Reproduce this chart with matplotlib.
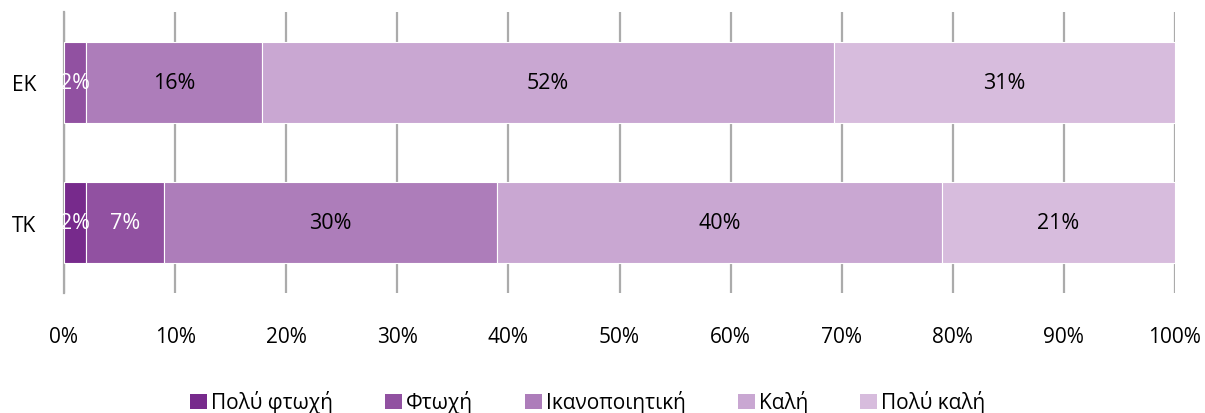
import matplotlib
matplotlib.use("Agg")
import matplotlib.pyplot as plt
import numpy as np

plt.rcParams['font.family'] = ['Open Sans', 'DejaVu Sans']

categories = ['ΕΚ', 'ΤΚ']
series_names = ['Πολύ φτωχή', 'Φτωχή', 'Ικανοποιητική', 'Καλή', 'Πολύ καλή']
poly_ftoxi = [0, 2]
ftoxi = [2, 7]
ikanopoiitiki = [16, 30]
kali = [52, 40]
poly_kali = [31, 21]
xtick_values = [0, 10, 20, 30, 40, 50, 60, 70, 80, 90, 100]
xtick_labels = ['0%', '10%', '20%', '30%', '40%', '50%', '60%', '70%', '80%', '90%', '100%']

colors = ['#772A8C', '#9151A1', '#AD7DBA', '#C9A7D2', '#D7BCDD']
label_colors = ['white', 'white', 'black', 'black', 'black']

series = [poly_ftoxi, ftoxi, ikanopoiitiki, kali, poly_kali]
vals = np.array(series, dtype=float)  # shape (5, 2)
totals = vals.sum(axis=0)
shares = vals / totals * 100

fig = plt.figure(figsize=(12.05, 4.14), dpi=100)
ax = fig.add_axes([64/1205, 1-294/414, (1175-64)/1205, (294-13)/414])

ypos = np.arange(len(categories))
left = np.zeros(len(categories))
fs = 15
for i, name in enumerate(series_names):
    ax.barh(ypos, shares[i], left=left, height=0.58, color=colors[i],
            edgecolor='white', linewidth=0.8, label=name, zorder=3)
    for j in range(len(categories)):
        if vals[i, j] > 0:
            ax.text(left[j] + shares[i, j] / 2, ypos[j], f'{int(vals[i, j])}%',
                    ha='center', va='center', fontsize=15.5, color=label_colors[i], zorder=4)
    left += shares[i]

ax.set_xlim(0, 100)
ax.set_ylim(len(categories) - 0.5, -0.5)
ax.set_xticks(xtick_values)
ax.set_xticklabels(xtick_labels, fontsize=fs)
ax.set_yticks(ypos)
ax.set_yticklabels(categories, fontsize=fs)
ax.tick_params(axis='both', length=0)
ax.tick_params(axis='x', pad=24)
ax.tick_params(axis='y', pad=20)
ax.grid(axis='x', color='#ABABAB', linewidth=1.6, zorder=0)
ax.set_axisbelow(True)
for s in ['top', 'right', 'bottom']:
    ax.spines[s].set_visible(False)
ax.spines['left'].set_color('#ABABAB')
ax.spines['left'].set_linewidth(1.6)

handles, labels = ax.get_legend_handles_labels()
leg = fig.legend(handles, labels, loc='center', bbox_to_anchor=(588/1205, 1-403/414),
                 ncol=5, frameon=False, fontsize=fs, handlelength=0.8, handleheight=0.7,
                 handletextpad=0.2, columnspacing=2.5, borderpad=0)
for h in leg.legend_handles:
    h.set_linewidth(0)

fig.savefig('out.png', dpi=100)
